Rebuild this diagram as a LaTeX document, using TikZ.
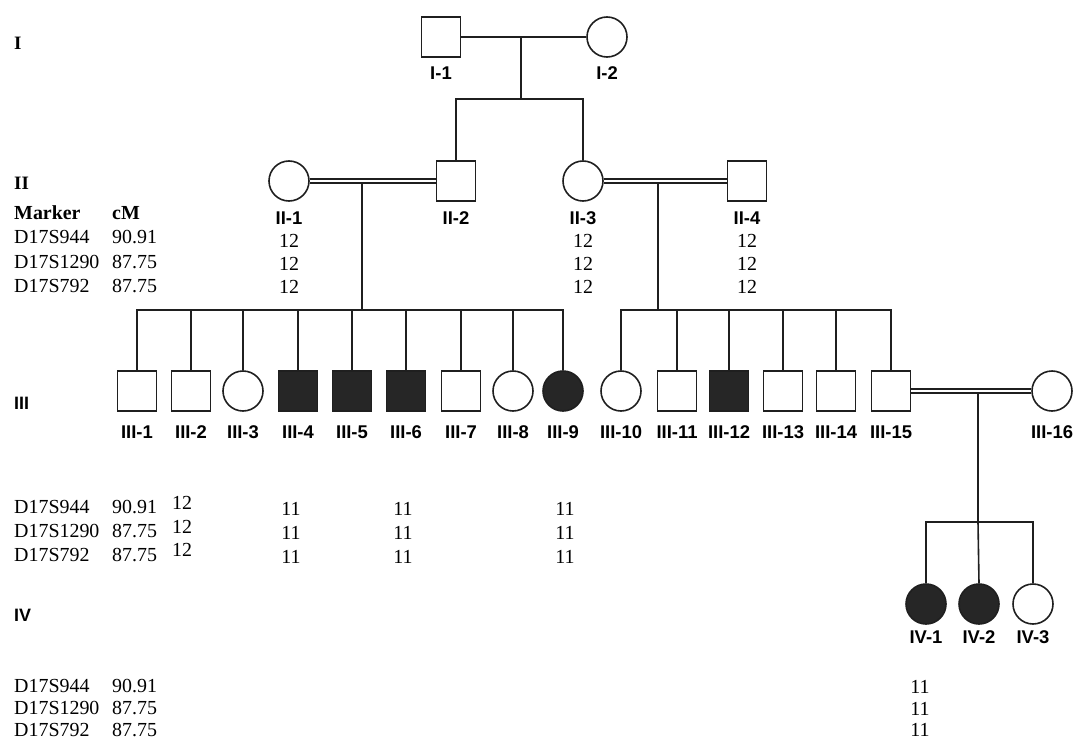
\documentclass[tikz,border=0pt]{standalone}
\usepackage{fontspec}
\setmainfont{Liberation Serif}
\newfontfamily\lsans{Liberation Sans}
\begin{document}
\begin{tikzpicture}[x=1bp,y=-1bp,
  inkline/.style={draw=black!88, line width=1.6bp},
  male/.style={inkline, rectangle, minimum width=39bp, minimum height=40bp, inner sep=0pt, fill=white},
  female/.style={inkline, circle, minimum size=40bp, inner sep=0pt, fill=white},
  affected/.style={fill=black!85},
  relline/.style={draw=black!88, line width=1.6bp},
  consline/.style={draw=black!88, line width=1.4bp, double=white, double distance=2.8bp},
  pidlabel/.style={font=\lsans\bfseries\fontsize{18.5}{20}\selectfont, inner sep=0pt},
  genlabel/.style={font=\lsans\bfseries\fontsize{18}{20}\selectfont, inner sep=0pt, anchor=west},
  genrlabel/.style={font=\bfseries\fontsize{19}{20}\selectfont, inner sep=0pt, anchor=west},
  mktext/.style={font=\fontsize{20}{22}\selectfont, inner sep=0pt, anchor=west},
  mkbold/.style={font=\bfseries\fontsize{20}{22}\selectfont, inner sep=0pt, anchor=west},
  gtype/.style={font=\fontsize{20}{22}\selectfont, inner sep=0pt}
]
\useasboundingbox[fill=white] (0,0) rectangle (1083,741);

% generation labels
\node[genrlabel] (gI) at (14,43) {I};
\node[genrlabel] (gII) at (14,183) {II};
\node[genlabel] (gIII) at (14,403) {III};
\node[genlabel] (gIV) at (14,615) {IV};

% marker table (top)
\node[mkbold] (hM) at (14,213) {Marker};
\node[mkbold] (hC) at (112,213) {cM};
\node[mktext] (a1) at (14,237) {D17S944};
\node[mktext] (a2) at (14,262) {D17S1290};
\node[mktext] (a3) at (14,286) {D17S792};
\node[mktext] (b1) at (112,237) {90.91};
\node[mktext] (b2) at (112,262) {87.75};
\node[mktext] (b3) at (112,286) {87.75};

% marker table (generation III)
\node[mktext] (c1) at (14,507) {D17S944};
\node[mktext] (c2) at (14,531) {D17S1290};
\node[mktext] (c3) at (14,555) {D17S792};
\node[mktext] (d1) at (112,507) {90.91};
\node[mktext] (d2) at (112,531) {87.75};
\node[mktext] (d3) at (112,555) {87.75};

% marker table (generation IV)
\node[mktext] (e1) at (14,686) {D17S944};
\node[mktext] (e2) at (14,708) {D17S1290};
\node[mktext] (e3) at (14,730) {D17S792};
\node[mktext] (f1) at (112,686) {90.91};
\node[mktext] (f2) at (112,708) {87.75};
\node[mktext] (f3) at (112,730) {87.75};

% generation I
\node[male] (I1) at (441,37) {};
\node[female] (I2) at (607,37) {};
\node[pidlabel] (lI1) at (441,73) {I-1};
\node[pidlabel] (lI2) at (607,73) {I-2};

% generation II
\node[female] (II1) at (289,181) {};
\node[male] (II2) at (456,181) {};
\node[female] (II3) at (583,181) {};
\node[male] (II4) at (747,181) {};
\node[pidlabel] (lII1) at (289,218) {II-1};
\node[pidlabel] (lII2) at (456,218) {II-2};
\node[pidlabel] (lII3) at (583,218) {II-3};
\node[pidlabel] (lII4) at (747,218) {II-4};
\foreach \x/\nm in {289/p, 583/q, 747/r}{
  \node[gtype] (g\nm1) at (\x,241) {12};
  \node[gtype] (g\nm2) at (\x,264) {12};
  \node[gtype] (g\nm3) at (\x,287) {12};
}

% generation III
\node[male] (III1) at (137,391) {};
\node[male] (III2) at (191,391) {};
\node[female] (III3) at (243,391) {};
\node[male,affected] (III4) at (298,391) {};
\node[male,affected] (III5) at (352,391) {};
\node[male,affected] (III6) at (406,391) {};
\node[male] (III7) at (461,391) {};
\node[female] (III8) at (513,391) {};
\node[female,affected] (III9) at (563,391) {};
\node[female] (III10) at (621,391) {};
\node[male] (III11) at (677,391) {};
\node[male,affected] (III12) at (729,391) {};
\node[male] (III13) at (783,391) {};
\node[male] (III14) at (836,391) {};
\node[male] (III15) at (891,391) {};
\node[female] (III16) at (1052,391) {};
\foreach \x/\n in {137/1,191/2,243/3,298/4,352/5,406/6,461/7,513/8,563/9,621/10,677/11,729/12,783/13,836/14,891/15,1052/16}{
  \node[pidlabel] (lIII\n) at (\x,432) {III-\n};
}
\node[gtype] (h1) at (182,503) {12};
\node[gtype] (h2) at (182,527) {12};
\node[gtype] (h3) at (182,550) {12};
\foreach \x/\nm in {291/s, 403/t, 565/u}{
  \node[gtype] (k\nm1) at (\x,509) {11};
  \node[gtype] (k\nm2) at (\x,533) {11};
  \node[gtype] (k\nm3) at (\x,557) {11};
}

% generation IV
\node[female,affected] (IV1) at (926,604) {};
\node[female,affected] (IV2) at (979,604) {};
\node[female] (IV3) at (1033,604) {};
\node[pidlabel] (lIV1) at (926,637) {IV-1};
\node[pidlabel] (lIV2) at (979,637) {IV-2};
\node[pidlabel] (lIV3) at (1033,637) {IV-3};
\node[gtype] (m1) at (920,687) {11};
\node[gtype] (m2) at (920,709) {11};
\node[gtype] (m3) at (920,730) {11};

% connector points
\coordinate (mI) at (521,37);
\coordinate (sI) at (521,99);
\coordinate (mA) at (362,181);
\coordinate (sA) at (362,310);
\coordinate (mB) at (658,181);
\coordinate (sB) at (658,310);
\coordinate (mC) at (978,391);
\coordinate (sC) at (978,522);

% descent lines
\draw[relline] (I1) -- (I2);
\draw[relline] (mI) -- (sI);
\draw[relline] (sI) -| (II2.north);
\draw[relline] (sI) -| (II3.north);
\draw[relline] (mA) -- (sA);
\draw[relline] (mB) -- (sB);
\draw[relline] (mC) -- (sC);
\foreach \n in {1,...,9}{ \draw[relline] (sA) -| (III\n.north); }
\foreach \n in {10,...,15}{ \draw[relline] (sB) -| (III\n.north); }
\draw[relline] (sC) -| (IV1.north);
\draw[relline] (sC) -| (IV3.north);
\draw[relline] (sC) -- (IV2.north);

% consanguineous marriages
\draw[consline] (II1) -- (II2);
\draw[consline] (II3) -- (II4);
\draw[consline] (III15) -- (III16);
\end{tikzpicture}
\end{document}
